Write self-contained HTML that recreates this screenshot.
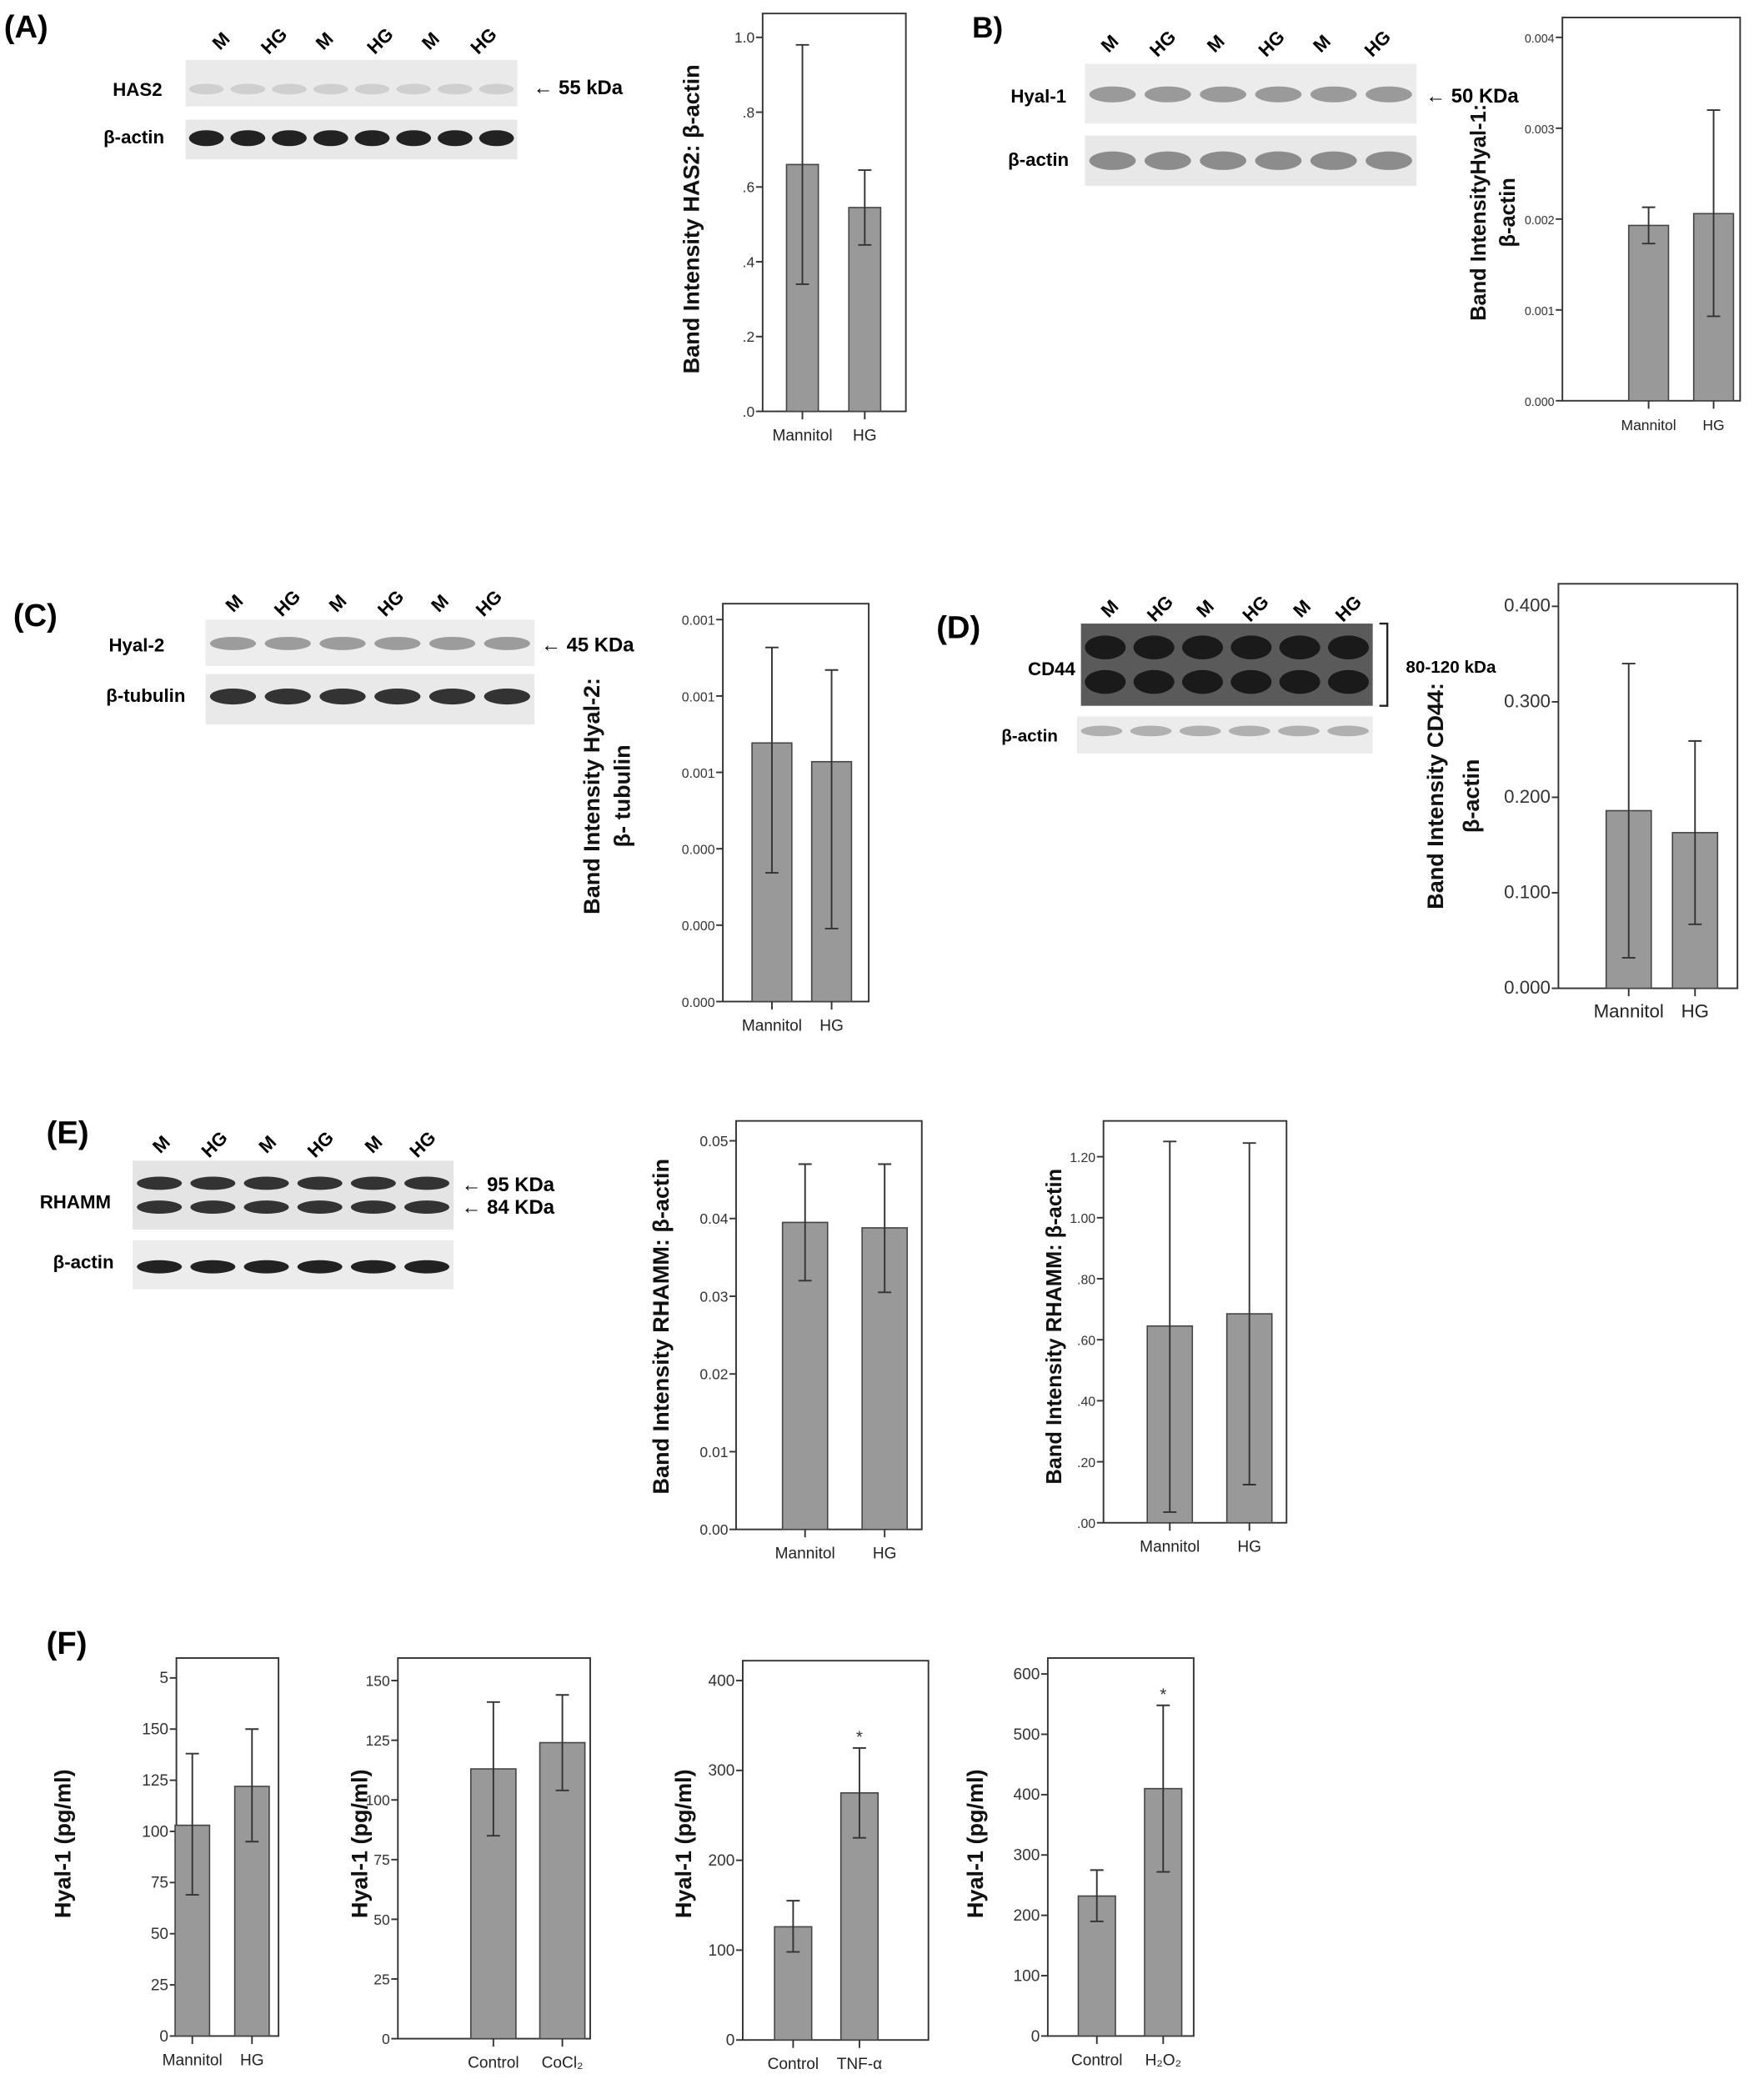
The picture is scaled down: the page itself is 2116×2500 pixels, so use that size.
<!DOCTYPE html>
<html><head><meta charset="utf-8"><style>
html,body{margin:0;padding:0;background:#fff}
svg{display:block;font-family:"Liberation Sans",sans-serif}
</style></head><body>
<svg id="fig" xmlns="http://www.w3.org/2000/svg" width="2116" height="2500" viewBox="0 0 1330 1571">
<rect width="1330" height="1571" fill="#fff"/>
<g id="blots"></g>
<g id="charts"></g>
</svg>
<script>
// ---------- chart data ----------
const aCats=["Mannitol","HG"], aVals=[0.66,0.545], aLo=[0.34,0.445], aHi=[0.98,0.645], aTicks=[0,0.2,0.4,0.6,0.8,1.0], aTickLabels=[".0",".2",".4",".6",".8","1.0"];
const bCats=["Mannitol","HG"], bVals=[0.00193,0.00206], bLo=[0.00173,0.00093], bHi=[0.00213,0.0032], bTicks=[0,0.001,0.002,0.003,0.004], bTickLabels=["0.000","0.001","0.002","0.003","0.004"];
const cCats=["Mannitol","HG"], cVals=[0.000677,0.000628], cLo=[0.000337,0.000191], cHi=[0.000927,0.000868], cTicks=[0,0.0002,0.0004,0.0006,0.0008,0.001], cTickLabels=["0.000","0.000","0.000","0.001","0.001","0.001"];
const dCats=["Mannitol","HG"], dVals=[0.186,0.163], dLo=[0.032,0.067], dHi=[0.34,0.259], dTicks=[0,0.1,0.2,0.3,0.4], dTickLabels=["0.000","0.100","0.200","0.300","0.400"];
const e1Cats=["Mannitol","HG"], e1Vals=[0.0395,0.0388], e1Lo=[0.032,0.0305], e1Hi=[0.047,0.047], e1Ticks=[0,0.01,0.02,0.03,0.04,0.05], e1TickLabels=["0.00","0.01","0.02","0.03","0.04","0.05"];
const e2Cats=["Mannitol","HG"], e2Vals=[0.645,0.685], e2Lo=[0.035,0.125], e2Hi=[1.25,1.245], e2Ticks=[0,0.2,0.4,0.6,0.8,1.0,1.2], e2TickLabels=[".00",".20",".40",".60",".80","1.00","1.20"];
const f1Cats=["Mannitol","HG"], f1Vals=[103,122], f1Lo=[69,95], f1Hi=[138,150], f1Ticks=[0,25,50,75,100,125,150,175], f1TickLabels=["0","25","50","75","100","125","150","5"];
const f2Cats=["Control","CoCl₂"], f2Vals=[113,124], f2Lo=[85,104], f2Hi=[141,144], f2Ticks=[0,25,50,75,100,125,150], f2TickLabels=["0","25","50","75","100","125","150"];
const f3Cats=["Control","TNF-α"], f3Vals=[126,275], f3Lo=[98,225], f3Hi=[155,325], f3Ticks=[0,100,200,300,400], f3TickLabels=["0","100","200","300","400"], f3Stars=["","*"];
const f4Cats=["Control","H₂O₂"], f4Vals=[232,410], f4Lo=[190,272], f4Hi=[275,548], f4Ticks=[0,100,200,300,400,500,600], f4TickLabels=["0","100","200","300","400","500","600"], f4Stars=["","*"];

const NS="http://www.w3.org/2000/svg";
function mk(parent,tag,attrs,text){const e=document.createElementNS(NS,tag);for(const k in attrs)e.setAttribute(k,attrs[k]);if(text!==undefined)e.textContent=text;parent.appendChild(e);return e;}
const charts=document.getElementById('charts');
const blots=document.getElementById('blots');

function chart(id,L,cats,vals,lo,hi,ticks,tickLabels,titles,stars){
  const g=mk(charts,'g',{});
  
  
  const maxT=ticks[ticks.length-1];
  const y=v=>L.y0-(v/maxT)*(L.y0-L.yT);
  const frame=mk(g,'rect',{x:L.x0,y:L.top,width:L.x1-L.x0,height:L.y0-L.top,fill:'none',stroke:'#333','stroke-width':1.2});
  
  
  ticks.forEach((t,i)=>{
    const yy=y(t);
    const tk=mk(g,'line',{x1:L.x0-5,x2:L.x0,y1:yy,y2:yy,stroke:'#333','stroke-width':1.2});
    
    
    const tl=mk(g,'text',{x:L.x0-6,y:yy+4,'text-anchor':'end','font-size':L.tf||11,fill:'#333'},tickLabels[i]);
    
    
  });
  cats.forEach((c,i)=>{
    const cx=L.cx[i], w=L.bw;
    const b=mk(g,'rect',{x:cx-w/2,y:y(vals[i]),width:w,height:L.y0-y(vals[i]),fill:'#999',stroke:'#444','stroke-width':1});
    
    
    const eb=mk(g,'path',{d:`M${cx},${y(lo[i])}V${y(hi[i])}M${cx-5},${y(lo[i])}H${cx+5}M${cx-5},${y(hi[i])}H${cx+5}`,stroke:'#333','stroke-width':1.2,fill:'none'});
    
    
    const xt=mk(g,'line',{x1:cx,x2:cx,y1:L.y0,y2:L.y0+6,stroke:'#333','stroke-width':1.2});
    
    
    const xl=mk(g,'text',{x:cx,y:L.y0+22,'text-anchor':'middle','font-size':L.xf||12,fill:'#222'},c);
    
    
    if(stars&&stars[i]){
      const s=mk(g,'text',{x:cx,y:y(hi[i])-4,'text-anchor':'middle','font-size':13,fill:'#333'},stars[i]);
      
      
    }
  });
  titles.forEach((t,j)=>{
    const tx=L.tx[j];
    const tt=mk(g,'text',{x:tx,y:L.ty,transform:`rotate(-90 ${tx} ${L.ty})`,'text-anchor':'middle','font-size':L.tfs||17,'font-weight':'bold',fill:'#111'},t);
    
    
  });
  if(L.head){
    const h=mk(g,'text',{x:(L.x0+L.x1)/2,y:L.top-14,'text-anchor':'middle','font-size':12,'font-weight':'bold'},L.head);
    
    
  }
}
chart('a',{x0:575,x1:683,top:10,y0:310,yT:28,cx:[605,652],bw:24,tx:[527],ty:165},aCats,aVals,aLo,aHi,aTicks,aTickLabels,["Band Intensity HAS2: β-actin"]);
chart('b',{x0:1178,x1:1312,top:13,y0:302,yT:28,cx:[1243,1292],bw:30,tx:[1120,1142],ty:160,xf:11,tf:9,tfs:16},bCats,bVals,bLo,bHi,bTicks,bTickLabels,["Band IntensityHyal-1:","β-actin"]);
chart('c',{x0:545,x1:655,top:455,y0:755,yT:467,cx:[582,627],bw:30,tx:[452,475],ty:600,tf:10},cCats,cVals,cLo,cHi,cTicks,cTickLabels,["Band Intensity Hyal-2:","β- tubulin"]);
chart('d',{x0:1175,x1:1310,top:440,y0:745,yT:457,cx:[1228,1278],bw:34,tx:[1088,1115],ty:600,tf:14,xf:14},dCats,dVals,dLo,dHi,dTicks,dTickLabels,["Band Intensity CD44:","β-actin"]);
chart('e1',{x0:555,x1:695,top:845,y0:1153,yT:860,cx:[607,667],bw:34,tx:[504],ty:1000},e1Cats,e1Vals,e1Lo,e1Hi,e1Ticks,e1TickLabels,["Band Intensity RHAMM: β-actin"]);
chart('e2',{x0:832,x1:970,top:845,y0:1148,yT:872,cx:[882,942],bw:34,tx:[800],ty:1000,tf:10,tfs:16},e2Cats,e2Vals,e2Lo,e2Hi,e2Ticks,e2TickLabels,["Band Intensity RHAMM: β-actin"]);
chart('f1',{x0:133,x1:210,top:1250,y0:1535,yT:1265,cx:[145,190],bw:26,tx:[53],ty:1390,tf:12},f1Cats,f1Vals,f1Lo,f1Hi,f1Ticks,f1TickLabels,["Hyal-1 (pg/ml)"]);
chart('f2',{x0:300,x1:445,top:1250,y0:1537,yT:1267,cx:[372,424],bw:34,tx:[277],ty:1390,tf:11},f2Cats,f2Vals,f2Lo,f2Hi,f2Ticks,f2TickLabels,["Hyal-1 (pg/ml)"]);
chart('f3',{x0:560,x1:700,top:1252,y0:1538,yT:1267,cx:[598,648],bw:28,tx:[521],ty:1390,tf:12},f3Cats,f3Vals,f3Lo,f3Hi,f3Ticks,f3TickLabels,["Hyal-1 (pg/ml)"],f3Stars);
chart('f4',{x0:790,x1:900,top:1250,y0:1535,yT:1262,cx:[827,877],bw:28,tx:[741],ty:1390,tf:12},f4Cats,f4Vals,f4Lo,f4Hi,f4Ticks,f4TickLabels,["Hyal-1 (pg/ml)"],f4Stars);

// ---------- blots ----------
function label(t,x,y,size,name,anchor){const e=mk(blots,'text',{x:x,y:y,'font-size':size,'font-weight':'bold','text-anchor':anchor||'start'},t);return e;}
function lanes(xs,y,name){const L=["M","HG","M","HG","M","HG"];xs.forEach((x,i)=>{const e=mk(blots,'text',{x:x,y:y,transform:`rotate(-45 ${x} ${y})`,'font-size':14,'font-weight':'bold','text-anchor':'middle'},L[i]);});}
function strip(x0,x1,y0,y1,bg,n,bandY,bandH,bandColor,name,rows){
  const r=mk(blots,'rect',{x:x0,y:y0,width:x1-x0,height:y1-y0,fill:bg});
  
  
  const w=(x1-x0)/n;
  for(let i=0;i<n;i++)(rows||[bandY]).forEach(by=>{const b=mk(blots,'ellipse',{cx:x0+w*(i+0.5),cy:by,rx:w*0.42,ry:bandH,fill:bandColor});});
}
// A
label("(A)",3,28,24,'panel-label-a');
lanes([170,210,248,290,328,368],34,'a');
label("HAS2",85,72,14,'has2-label');
strip(140,390,45,80,'#eaeaea',8,67,4,'#cfcfcf','has2-blot');
label("β-actin",78,108,14,'a-actin-label');
strip(140,390,90,120,'#e8e8e8',8,104,6,'#222','a-actin-blot');
label("← 55 kDa",402,71,15,'a-kda-label');
// B
label("B)",733,28,22,'panel-label-b');
lanes([840,880,920,962,1000,1042],36,'b');
label("Hyal-1",762,77,14,'hyal1-label');
strip(818,1068,48,93,'#ececec',6,71,6,'#9a9a9a','hyal1-blot');
label("β-actin",760,125,14,'b-actin-label');
strip(818,1068,102,140,'#e8e8e8',6,121,7,'#8c8c8c','b-actin-blot');
label("← 50 KDa",1075,77,15,'b-kda-label');
// C
label("(C)",10,472,24,'panel-label-c');
lanes([180,220,258,298,335,372],458,'c');
label("Hyal-2",82,491,14,'hyal2-label');
strip(155,403,467,502,'#ededed',6,485,5,'#9c9c9c','hyal2-blot');
label("β-tubulin",80,529,14,'c-tubulin-label');
strip(155,403,508,546,'#e9e9e9',6,525,6,'#333','c-tubulin-blot');
label("← 45 KDa",408,491,15,'c-kda-label');
// D
label("(D)",706,481,24,'panel-label-d');
lanes([840,878,912,950,985,1020],462,'d');
label("CD44",775,509,14,'cd44-label');
strip(815,1035,470,532,'#5a5a5a',6,0,9,'#1a1a1a','cd44-blot',[488,514]);
const br=mk(blots,'path',{d:'M1040,470H1046V532H1040',fill:'none',stroke:'#222','stroke-width':1.5});


label("80-120 kDa",1060,507,13,'d-kda-label');
label("β-actin",755,559,13,'d-actin-label');
strip(812,1035,540,568,'#ececec',6,551,4,'#b0b0b0','d-actin-blot');
// E
label("(E)",35,862,24,'panel-label-e');
lanes([125,165,205,245,285,322],866,'e');
label("RHAMM",30,911,14,'rhamm-label');
strip(100,342,875,927,'#e4e4e4',6,0,5,'#333','rhamm-blot',[892,910]);
label("β-actin",40,956,14,'e-actin-label');
strip(100,342,935,972,'#ececec',6,955,5,'#222','e-actin-blot');
label("← 95 KDa",348,898,15,'e-95-label');
label("← 84 KDa",348,915,15,'e-84-label');
// F
label("(F)",35,1247,24,'panel-label-f');
</script>
</body></html>
